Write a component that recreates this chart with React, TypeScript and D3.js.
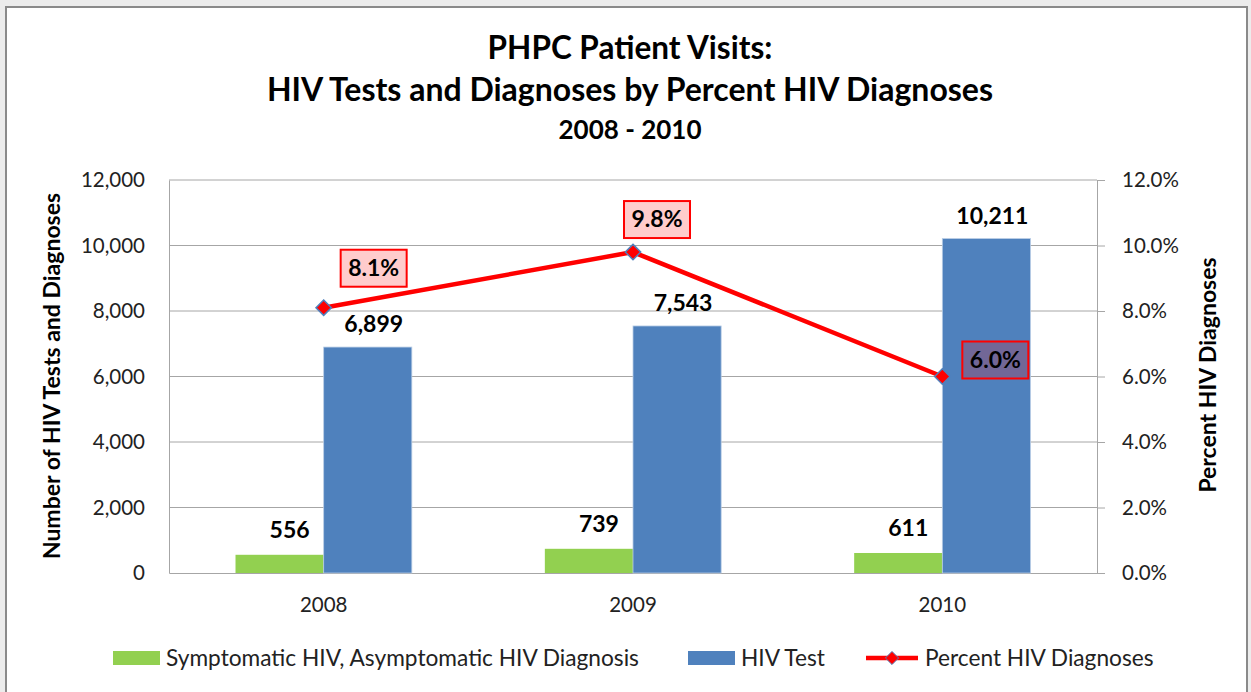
import { useEffect, useRef } from 'react'
import * as d3 from 'd3'

const years = ['2008', '2009', '2010']
const diagnoses = [556, 739, 611]
const tests = [6899, 7543, 10211]
const percents = [0.081, 0.098, 0.06]
const leftTicks = [0, 2000, 4000, 6000, 8000, 10000, 12000]
const rightTicks = [0, 0.02, 0.04, 0.06, 0.08, 0.1, 0.12]
const titleLines = ['PHPC Patient Visits:', 'HIV Tests and Diagnoses by Percent HIV Diagnoses', '2008 - 2010']

const FONT = 'Lato, "Open Sans", sans-serif'
const GREEN = '#92D050'
const BLUE = '#4F81BD'
const RED = '#FF0000'

function App() {
  const svgRef = useRef<SVGSVGElement>(null)

  useEffect(() => {
    document.body.style.margin = '0'
    const width = 1251
    const height = 692
    const m = { left: 169, right: 1097, top: 180, bottom: 573 }

    const svg = d3.select(svgRef.current)
    svg.selectAll('*').remove()
    svg.attr('width', width).attr('height', height).style('font-family', FONT)

    svg.append('rect').attr('width', width).attr('height', height).attr('fill', '#ececec')
    svg.append('rect')
      .attr('x', 6).attr('y', 7).attr('width', 1241).attr('height', 700)
      .attr('fill', '#fff').attr('stroke', '#8a8a8a').attr('stroke-width', 2)

    // title
    const titleY = [59, 101, 139]
    const titleSize = [31.5, 32, 26]
    titleLines.forEach((t, i) => {
      svg.append('text')
        .attr('x', 630).attr('y', titleY[i])
        .attr('text-anchor', 'middle')
        .attr('font-size', titleSize[i]).attr('font-weight', 700)
        .attr('fill', '#000')
        .text(t)
    })

    const x = d3.scaleBand().domain(years).range([m.left, m.right])
    const y = d3.scaleLinear().domain([0, 12000]).range([m.bottom, m.top])
    const y2 = d3.scaleLinear().domain([0, 0.12]).range([m.bottom, m.top])
    const barW = x.bandwidth() * 0.285
    const cx = (d: string) => (x(d) as number) + x.bandwidth() / 2

    // gridlines
    svg.append('g').selectAll('line').data(leftTicks.slice(1)).join('line')
      .attr('x1', m.left).attr('x2', m.right)
      .attr('y1', d => y(d)).attr('y2', d => y(d))
      .attr('stroke', '#a6a6a6').attr('stroke-width', 1)

    // left axis
    const yAxis = d3.axisLeft(y).tickValues(leftTicks).tickSize(0).tickPadding(24)
      .tickFormat(d => d3.format(',')(d as number))
    svg.append('g').attr('transform', `translate(${m.left},0)`).call(yAxis)
      .call(ax => ax.select('.domain').attr('stroke', '#a6a6a6'))
      .call(ax => ax.selectAll('text').attr('fill', '#222').attr('font-size', 20.5).attr('font-family', FONT))

    // right axis
    const y2Axis = d3.axisRight(y2).tickValues(rightTicks).tickSize(8).tickPadding(17)
      .tickFormat(d => d3.format('.1%')(d as number))
    svg.append('g').attr('transform', `translate(${m.right},0)`).call(y2Axis)
      .call(ax => ax.select('.domain').attr('stroke', '#a6a6a6'))
      .call(ax => ax.selectAll('line').attr('stroke', '#a6a6a6'))
      .call(ax => ax.selectAll('text').attr('fill', '#222').attr('font-size', 20.5).attr('font-family', FONT))

    // x axis
    const xAxis = d3.axisBottom(x).tickSize(0).tickPadding(24)
    svg.append('g').attr('transform', `translate(0,${m.bottom})`).call(xAxis)
      .call(ax => ax.select('.domain').attr('stroke', '#a6a6a6'))
      .call(ax => ax.selectAll('text').attr('fill', '#222').attr('font-size', 20.5).attr('font-family', FONT))

    // axis titles
    svg.append('text')
      .attr('transform', `translate(60,376) rotate(-90)`)
      .attr('text-anchor', 'middle').attr('font-size', 23).attr('font-weight', 700)
      .text('Number of HIV Tests and Diagnoses')
    svg.append('text')
      .attr('transform', `translate(1216,375) rotate(-90)`)
      .attr('text-anchor', 'middle').attr('font-size', 23).attr('font-weight', 700)
      .text('Percent HIV Diagnoses')

    // bars
    const g = svg.append('g')
    years.forEach((yr, i) => {
      const c = cx(yr)
      g.append('rect')
        .attr('x', c - barW).attr('y', y(diagnoses[i]))
        .attr('width', barW).attr('height', m.bottom - y(diagnoses[i]))
        .attr('fill', GREEN)
      g.append('rect')
        .attr('x', c).attr('y', y(tests[i]))
        .attr('width', barW).attr('height', m.bottom - y(tests[i]))
        .attr('fill', BLUE).attr('stroke', '#b9cde5').attr('stroke-width', 0.8)
      g.append('text')
        .attr('x', c - barW / 2 + 10).attr('y', y(diagnoses[i]) - 17)
        .attr('text-anchor', 'middle').attr('font-size', 23).attr('font-weight', 700)
        .text(d3.format(',')(diagnoses[i]))
      g.append('text')
        .attr('x', c + barW / 2 + 6).attr('y', y(tests[i]) - 15)
        .attr('text-anchor', 'middle').attr('font-size', 23).attr('font-weight', 700)
        .text(d3.format(',')(tests[i]))
    })

    // line
    const line = d3.line<number>().x((_, i) => cx(years[i])).y(d => y2(d))
    svg.append('path').datum(percents)
      .attr('d', line).attr('fill', 'none').attr('stroke', RED).attr('stroke-width', 4.5)
      .attr('stroke-linejoin', 'round')
    const diamond = d3.symbol().type(d3.symbolDiamond2).size(150)
    svg.append('g').selectAll('path').data(percents).join('path')
      .attr('transform', (d, i) => `translate(${cx(years[i])},${y2(d)})`)
      .attr('d', diamond)
      .attr('fill', RED).attr('stroke', BLUE).attr('stroke-width', 1.5)

    // percent labels
    const labelOffsets = [[50, -40], [24, -33], [53, -17]]
    percents.forEach((p, i) => {
      const lx = cx(years[i]) + labelOffsets[i][0]
      const ly = y2(p) + labelOffsets[i][1]
      svg.append('rect')
        .attr('x', lx - 33).attr('y', ly - 18).attr('width', 66).attr('height', 37)
        .attr('fill', 'rgba(255,0,0,0.2)').attr('stroke', RED).attr('stroke-width', 2)
      svg.append('text')
        .attr('x', lx).attr('y', ly + 8)
        .attr('text-anchor', 'middle').attr('font-size', 23).attr('font-weight', 700)
        .text(d3.format('.1%')(p))
    })

    // legend
    const ly = 658
    const leg = svg.append('g').attr('font-size', 22.7).attr('fill', '#222')
    leg.append('rect').attr('x', 113).attr('y', ly - 7).attr('width', 47).attr('height', 14).attr('fill', GREEN)
    leg.append('text').attr('x', 166).attr('y', ly + 8).text('Symptomatic HIV, Asymptomatic HIV Diagnosis')
    leg.append('rect').attr('x', 688).attr('y', ly - 7).attr('width', 47).attr('height', 14).attr('fill', BLUE)
    leg.append('text').attr('x', 741).attr('y', ly + 8).text('HIV Test')
    leg.append('line').attr('x1', 866).attr('x2', 918).attr('y1', ly).attr('y2', ly)
      .attr('stroke', RED).attr('stroke-width', 4.5)
    leg.append('path').attr('transform', `translate(892,${ly})`).attr('d', d3.symbol().type(d3.symbolDiamond2).size(110))
      .attr('fill', RED).attr('stroke', BLUE).attr('stroke-width', 1)
    leg.append('text').attr('x', 925).attr('y', ly + 8).text('Percent HIV Diagnoses')
  }, [])

  return <svg ref={svgRef} style={{ display: 'block' }} />
}

export default App
